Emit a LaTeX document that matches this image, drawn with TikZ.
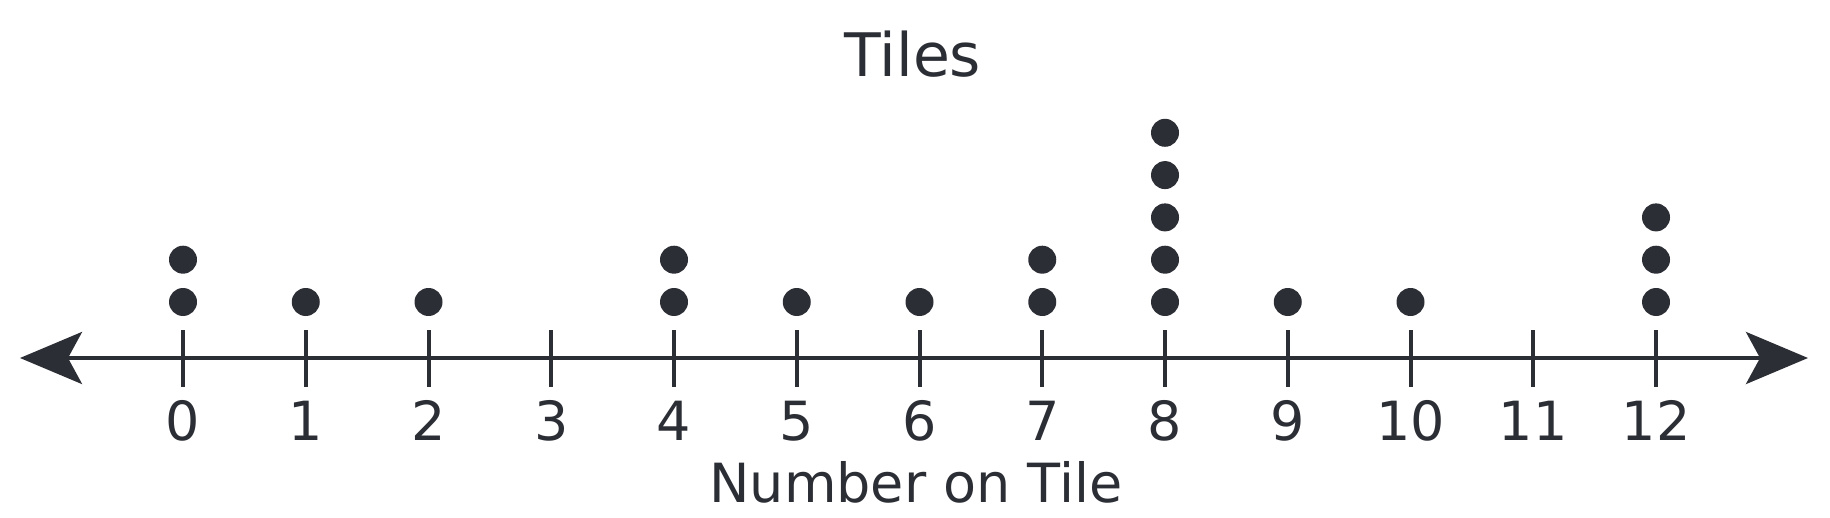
\documentclass[tikz,border=0pt]{standalone}
\usepackage{fontspec}
\setmainfont{DejaVu Sans}
\usetikzlibrary{arrows.meta}
\definecolor{ink}{HTML}{2C2E35}
\tikzset{
  axisline/.style={draw=ink,line width=2pt,{Stealth[length=31pt,width=26pt,inset=7pt]}-{Stealth[length=31pt,width=26pt,inset=7pt]}},
  tickline/.style={draw=ink,line width=2pt},
  dotmark/.style={circle,fill=ink,inner sep=0pt,minimum size=14pt},
  numlabel/.style={text=ink,font=\fontsize{27}{30}\selectfont,inner sep=0pt,anchor=base},
  titlelabel/.style={text=ink,font=\fontsize{30}{34}\selectfont,inner sep=0pt,anchor=base}
}
\begin{document}
\begin{tikzpicture}[x=0.5pt,y=-0.5pt]
\useasboundingbox (0,0) rectangle (1830,518);
\coordinate (L) at (20,358);
\coordinate (R) at (1808,358);
\draw[axisline] (L) -- (R);
\foreach \k in {0,...,12}{
  \coordinate (t\k a) at (183+122.75*\k,330);
  \coordinate (t\k b) at (183+122.75*\k,387);
  \draw[tickline] (t\k a) -- (t\k b);
  \node[numlabel] (n\k) at (183+122.75*\k,440) {\k};
}
\foreach \k/\c in {0/2,1/1,2/1,4/2,5/1,6/1,7/2,8/5,9/1,10/1,12/3}{
  \foreach \j in {1,...,\c}{
    \node[dotmark] (d\k-\j) at (183+122.75*\k,302-42.3*\j+42.3) {};
  }
}
\node[titlelabel] (title) at (913,77) {Tiles};
\node[numlabel] (xlabel) at (916,502) {Number on Tile};
\end{tikzpicture}
\end{document}
